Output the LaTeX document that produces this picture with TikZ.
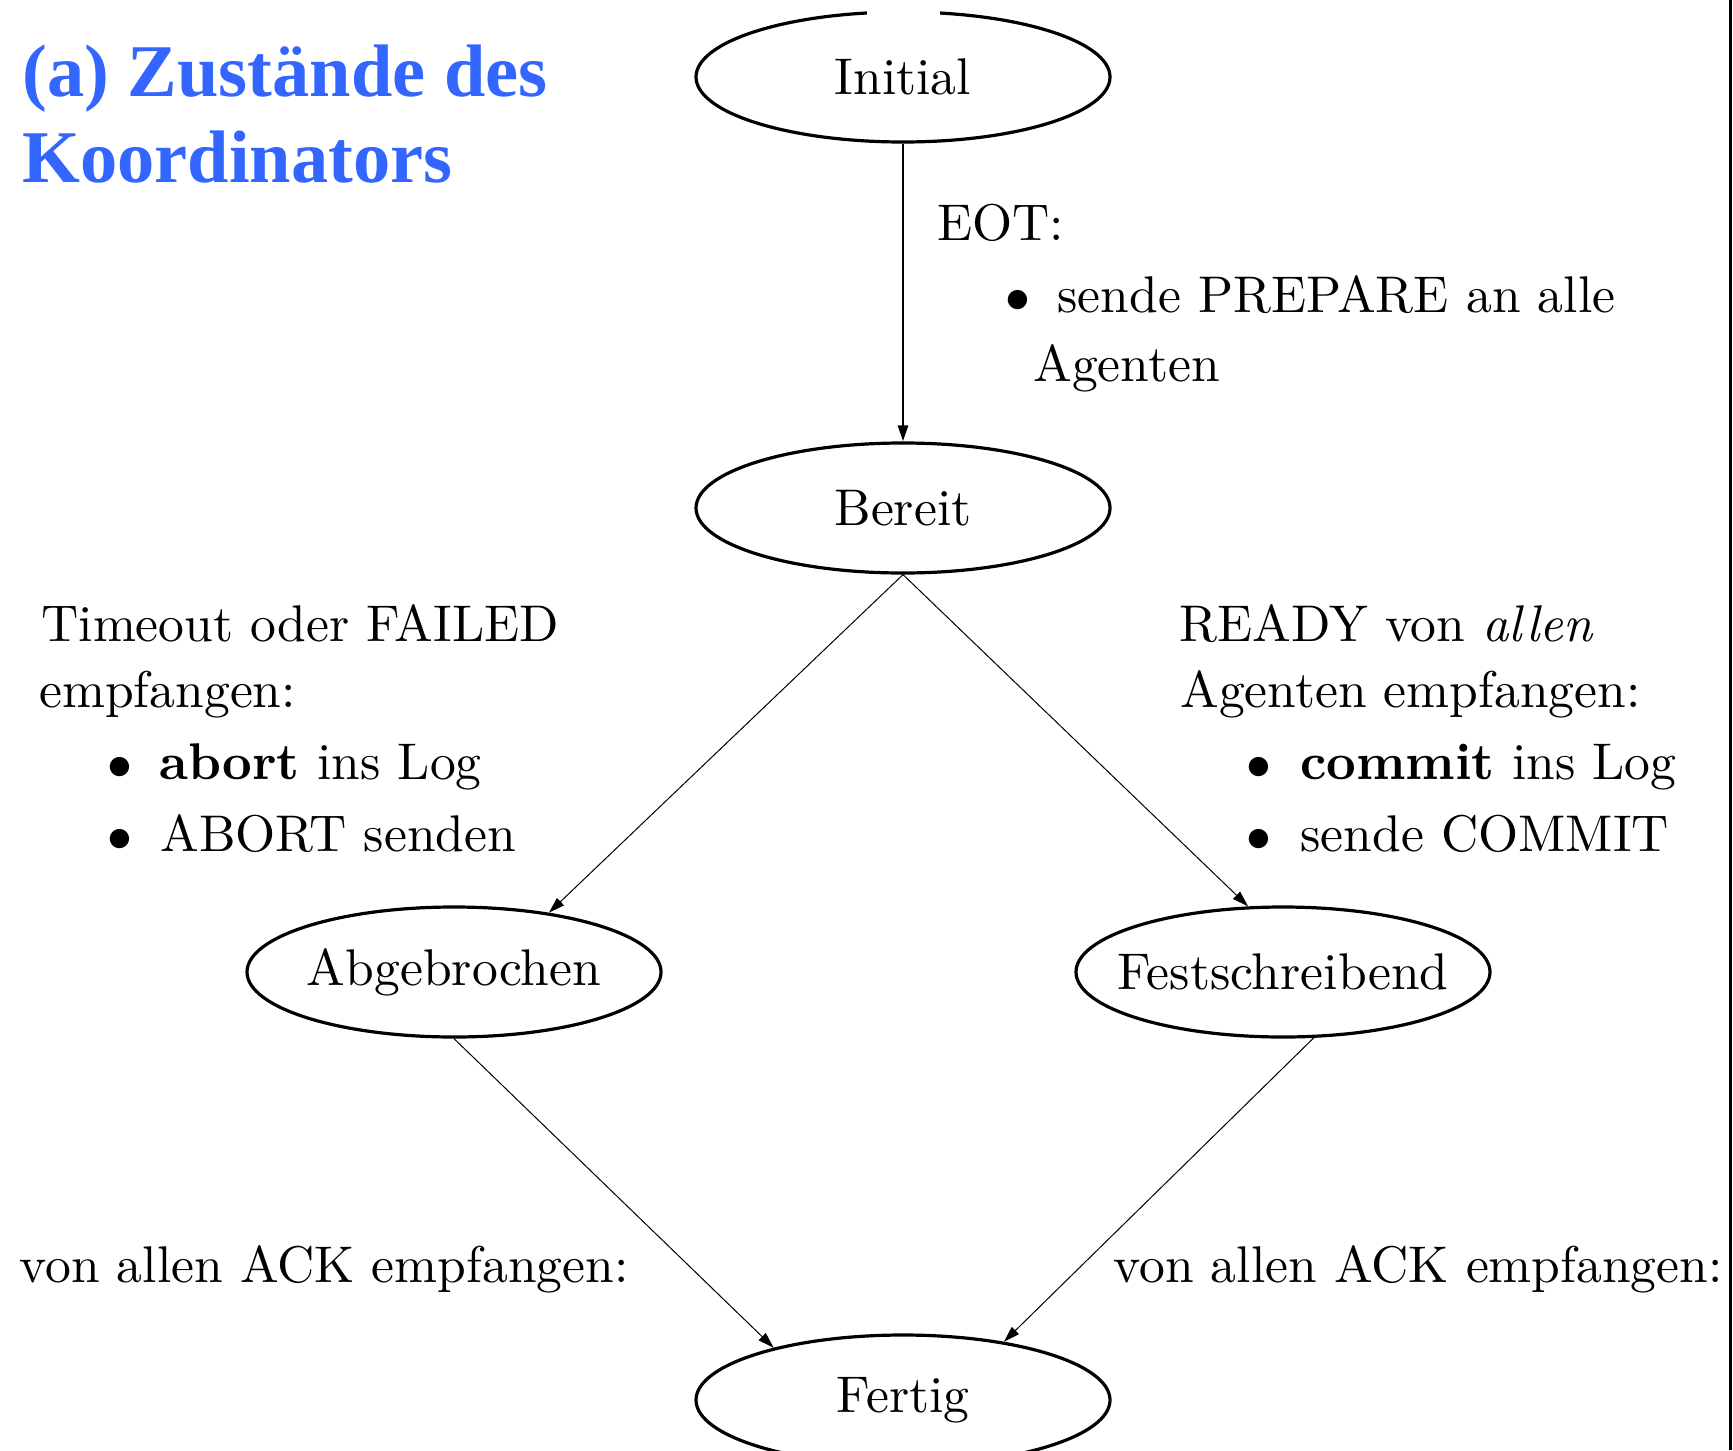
\documentclass[tikz,border=0pt]{standalone}
\usepackage{fontspec}
\setmainfont{lmroman10}[Extension=.otf, UprightFont=*-regular,
  BoldFont=*-bold, ItalicFont=*-italic, BoldItalicFont=*-bolditalic]
\newfontfamily\titlefont{Liberation Serif}
\usetikzlibrary{arrows.meta,shapes.geometric}
\definecolor{titleblue}{RGB}{51,102,255}
\newcommand\bodysize{\fontsize{25.8}{35}\selectfont}
\newcommand\statetext[1]{\makebox[0pt]{#1}}

\begin{document}
\begin{tikzpicture}[x=0.5pt,y=-0.5pt,
  state/.style={ellipse, draw, line width=1.6pt, minimum width=207pt,
    minimum height=65pt, inner sep=0pt, font=\bodysize},
  lbl/.style={anchor=base west, inner sep=0pt, font=\bodysize},
  dot/.style={anchor=base, inner sep=0pt, font=\bodysize},
  headline/.style={anchor=base west, inner sep=0pt, text=titleblue,
    font=\titlefont\bfseries\fontsize{37.2}{42.5}\selectfont},
  thin edge/.style={line width=0.5pt, -{Triangle[length=8pt,width=5pt]}},
  main edge/.style={line width=1.4pt, -{Triangle[length=8pt,width=5pt]}}]

  \clip (0,0) rectangle (1733,1450);

  % heading
  \node[headline] (head1) at (22,97) {(a) Zustände des};
  \node[headline] (head2) at (22,182) {Koordinators};

  % states
  \node[state] (initial) at (903,77)   {\statetext{Initial}};
  \node[state] (bereit)  at (903,508)  {\statetext{Bereit}};
  \node[state] (abg)     at (454,972)  {\statetext{Abgebrochen}};
  \node[state] (fest)    at (1283,972) {\statetext{Festschreibend}};
  \node[state] (fertig)  at (903,1400) {\statetext{Fertig}};

  % small break in the top of the first ellipse
  \fill[white] (867,6) rectangle (940,22);

  % transitions
  \draw[main edge] (initial) -- (bereit);
  \draw[thin edge] (bereit.south) -- (abg.32);
  \draw[thin edge] (bereit.south) -- (fest.118);
  \draw[thin edge] (abg.south) -- (fertig.158);
  \draw[thin edge] (fest.-65) -- (fertig.30);

  % EOT
  \node[lbl] (eot1) at (937,240) {EOT:};
  \node[dot] (eotb) at (1018,312) {$\bullet$};
  \node[lbl] (eot2) at (1057,312) {sende PREPARE an alle};
  \node[lbl] (eot3) at (1033,381) {Agenten};

  % abort branch
  \node[lbl] (ab1) at (41,641) {Timeout oder FAILED};
  \node[lbl] (ab2) at (39,707) {empfangen:};
  \node[dot] (abb1) at (120,779) {$\bullet$};
  \node[lbl] (ab3) at (159,779) {\textbf{abort} ins Log};
  \node[dot] (abb2) at (120,851) {$\bullet$};
  \node[lbl] (ab4) at (160,851) {ABORT senden};

  % commit branch
  \node[lbl] (co1) at (1179,641) {READY von \emph{allen}};
  \node[lbl] (co2) at (1180,707) {Agenten empfangen:};
  \node[dot] (cob1) at (1259,779) {$\bullet$};
  \node[lbl] (co3) at (1300,779) {\textbf{commit} ins Log};
  \node[dot] (cob2) at (1259,851) {$\bullet$};
  \node[lbl] (co4) at (1300,851) {sende COMMIT};

  % acknowledgements
  \node[lbl] (ack1) at (19,1282)   {von allen ACK empfangen:};
  \node[lbl] (ack2) at (1113,1282) {von allen ACK empfangen:};

  % frame line at the right edge
  \draw[line width=1.5pt] (1730,0) -- (1730,1450);
\end{tikzpicture}
\end{document}
